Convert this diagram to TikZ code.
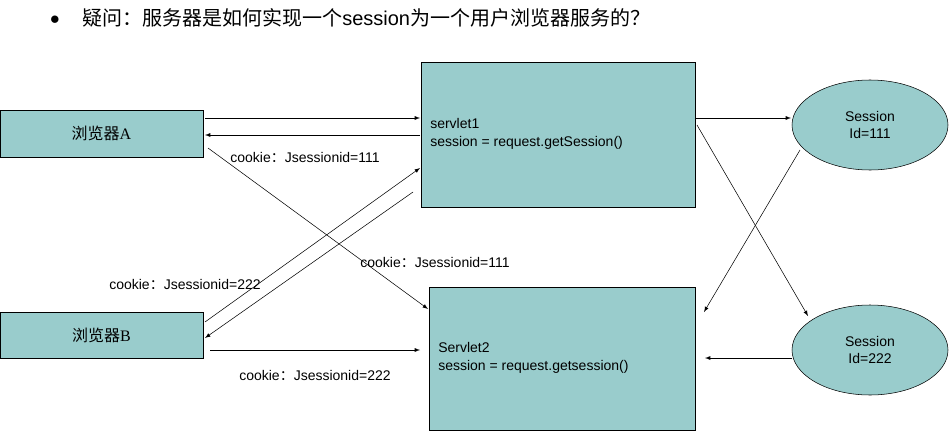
\documentclass[tikz,border=0pt]{standalone}
\usepackage{fontspec}
\setmainfont{Liberation Sans}
\newfontfamily\cjk{Noto Sans CJK SC}
\newfontfamily\serifA{Liberation Serif}
\usetikzlibrary{shapes.geometric}
\begin{document}
\begin{tikzpicture}[x=0.75pt,y=-0.75pt,
  box/.style={draw,fill=teal!40!white,fill=boxc,inner sep=0pt},
  ell/.style={draw,ellipse,fill=boxc,minimum width=156*0.75pt,minimum height=90*0.75pt,inner sep=0pt,align=center,font=\fontsize{10.5}{13}\selectfont},
  arr/.style={-latex,thin},
  lbl/.style={font=\fontsize{10.5}{12}\selectfont,inner sep=0pt}]
\definecolor{boxc}{HTML}{99CCCC}
\useasboundingbox (0,0) rectangle (952,435);
\node[inner sep=0pt] (bul) at (55,20) {\fontsize{14}{14}\selectfont$\bullet$};
\node[anchor=west,inner sep=0pt] (title) at (82,18) {\fontsize{15}{18}\selectfont\cjk 疑问：服务器是如何实现一个{\fontspec{Liberation Sans}session}为一个用户浏览器服务的？};
\node[box,minimum width=203*0.75pt,minimum height=47*0.75pt] (A) at (101.5,133.5) {\fontsize{12}{14}\selectfont{\cjk 浏览器}{\serifA A}};
\node[box,minimum width=203*0.75pt,minimum height=46*0.75pt] (B) at (101.5,335) {\fontsize{12}{14}\selectfont{\cjk 浏览器}{\serifA B}};
\node[box,minimum width=274*0.75pt,minimum height=145*0.75pt] (S1) at (558,134.5) {};
\node[anchor=west,align=left,font=\fontsize{10.5}{13}\selectfont,inner sep=0pt] (t1) at (430,134) {servlet1\\session = request.getSession()};
\node[box,minimum width=266*0.75pt,minimum height=143*0.75pt] (S2) at (562,358.5) {};
\node[anchor=west,align=left,font=\fontsize{10.5}{13}\selectfont,inner sep=0pt] (t2) at (438,358) {Servlet2\\session = request.getsession()};
\node[ell] (E1) at (870,125) {Session\\Id=111};
\node[ell] (E2) at (870,350) {Session\\Id=222};
% coordinates
\coordinate (a1) at (205,118); \coordinate (s1a) at (420,118);
\coordinate (s1b) at (420,135); \coordinate (a2) at (205,135);
\coordinate (a3) at (208,148); \coordinate (s2a) at (428,309);
\coordinate (b1) at (205,322); \coordinate (s1c) at (420,168);
\coordinate (s1d) at (413,192); \coordinate (b2) at (205,338);
\coordinate (b3) at (210,350); \coordinate (s2b) at (420,350);
\coordinate (s1e) at (695,118); \coordinate (e1a) at (791,118);
\coordinate (s1f) at (697,125); \coordinate (e2a) at (808,316);
\coordinate (e1b) at (800,150); \coordinate (s2c) at (704,312);
\coordinate (e2b) at (792,358); \coordinate (s2d) at (705,358);
\draw[arr] (a1) -- (s1a);
\draw[arr] (s1b) -- (a2);
\draw[arr] (a3) -- (s2a);
\draw[arr] (b1) -- (s1c);
\draw[arr] (s1d) -- (b2);
\draw[arr] (b3) -- (s2b);
\draw[arr] (s1e) -- (e1a);
\draw[arr] (s1f) -- (e2a);
\draw[arr] (e1b) -- (s2c);
\draw[arr] (e2b) -- (s2d);
\node[lbl] (l1) at (305,157) {cookie{\cjk ：}Jsessionid=111};
\node[lbl] (l2) at (185,284) {cookie{\cjk ：}Jsessionid=222};
\node[lbl] (l3) at (435,262) {cookie{\cjk ：}Jsessionid=111};
\node[lbl] (l4) at (315,375) {cookie{\cjk ：}Jsessionid=222};
\end{tikzpicture}
\end{document}
